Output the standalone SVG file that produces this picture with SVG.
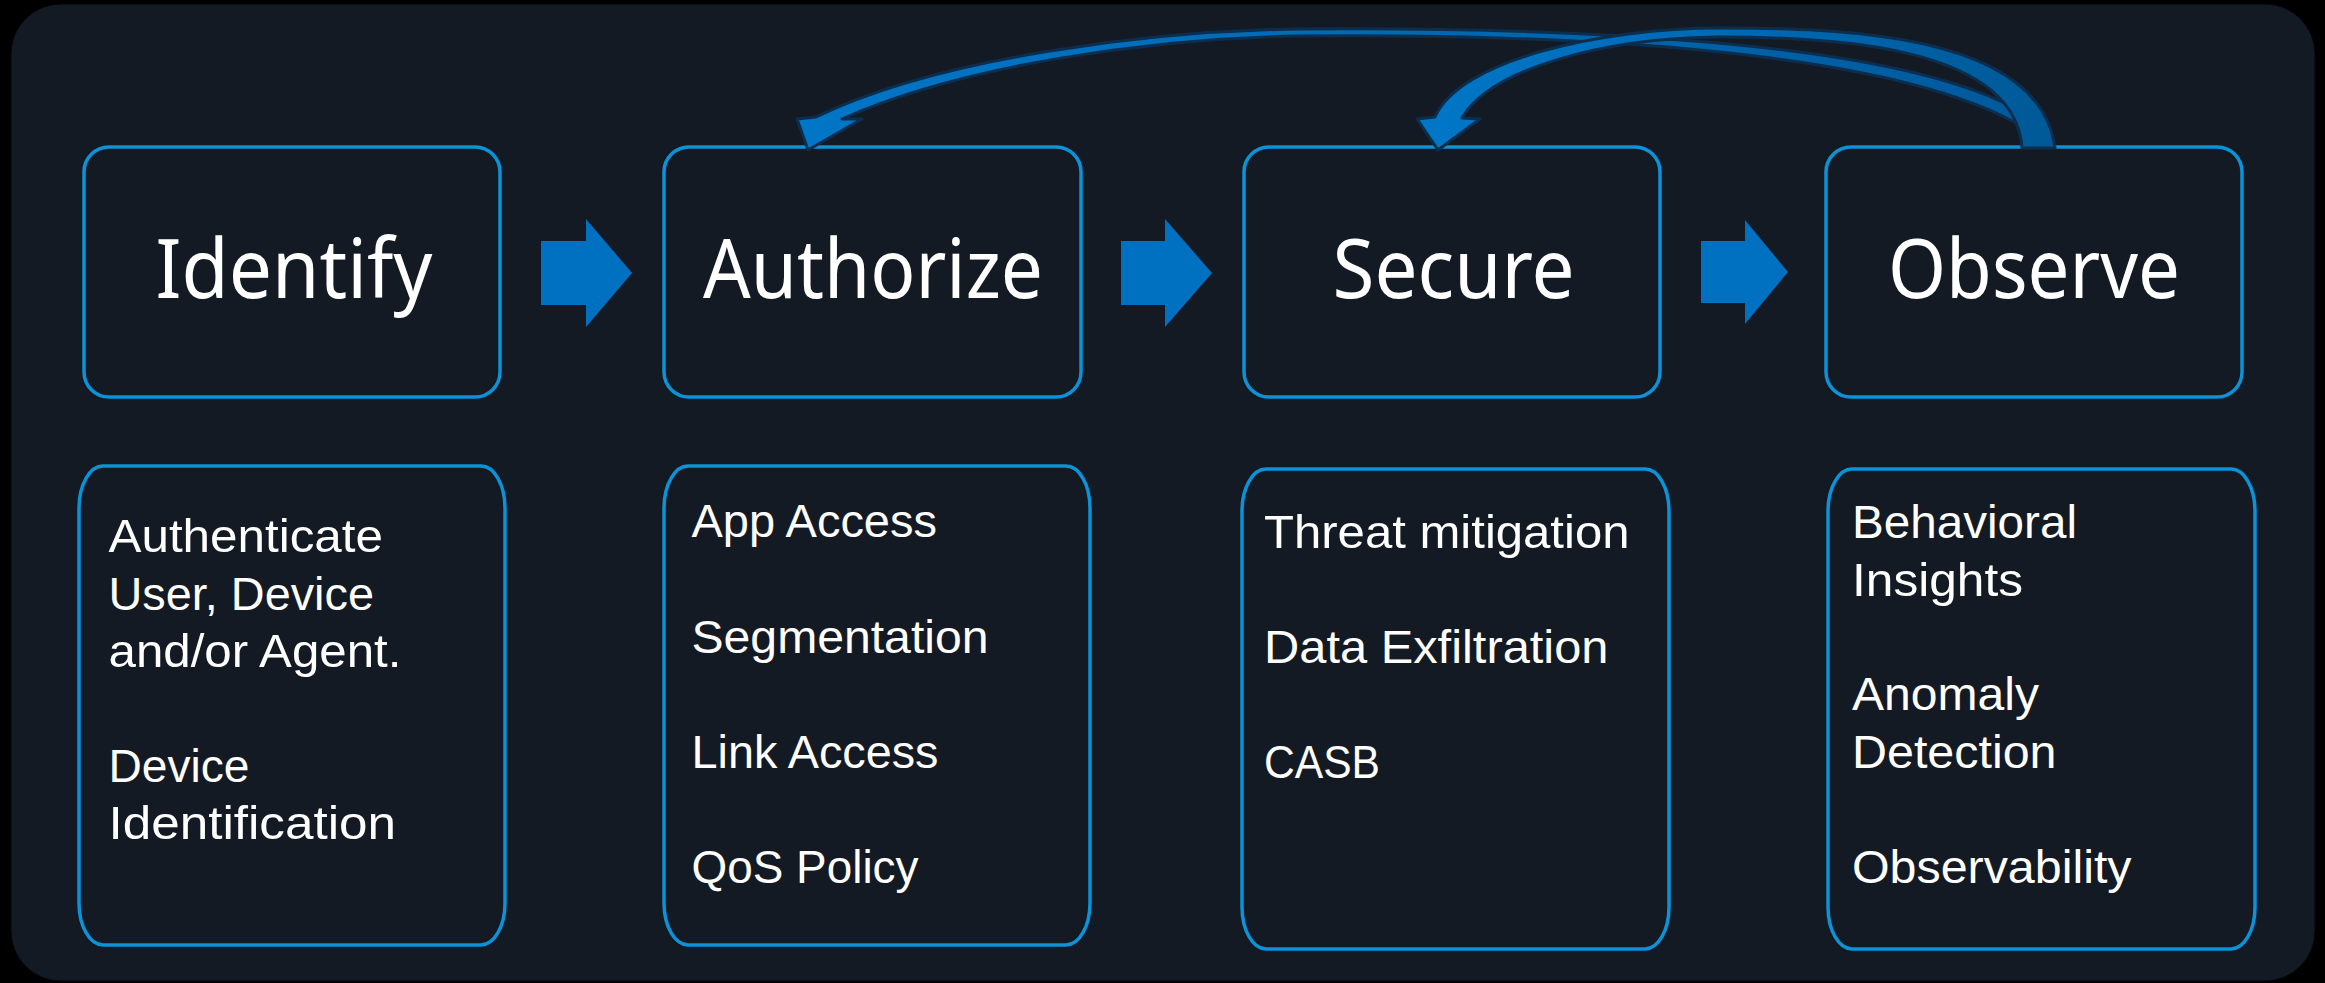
<svg xmlns="http://www.w3.org/2000/svg" width="2325" height="983" viewBox="0 0 2325 983">
  <defs>
    <style>
      .stage { fill: #141a23; stroke: #02070c; stroke-width: 1; }
      .box { fill: #141a23; stroke: #0a93d8; stroke-width: 3.5; }
      .step { fill: #ffffff; font-family: "Noto Sans", "DejaVu Sans", sans-serif; font-size: 82px; text-anchor: middle; }
      .item { fill: #ffffff; font-family: "Liberation Sans", Arial, sans-serif; font-size: 47px; }
      .flow { fill: #0070c0; }
      .loop { stroke: #0b2e4f; stroke-width: 3; stroke-linejoin: round; }
    </style>
    <linearGradient id="gradToAuthorize" gradientUnits="userSpaceOnUse" x1="808" y1="140" x2="2030" y2="120">
      <stop offset="0" stop-color="#0076c6"/>
      <stop offset="1" stop-color="#005a9c"/>
    </linearGradient>
    <linearGradient id="gradToSecure" gradientUnits="userSpaceOnUse" x1="1438" y1="140" x2="2055" y2="140">
      <stop offset="0" stop-color="#0076c6"/>
      <stop offset="0.5" stop-color="#0068b2"/>
      <stop offset="1" stop-color="#005996"/>
    </linearGradient>
  </defs>

  <rect width="2325" height="983" fill="#000000"/>
  <rect class="stage" x="11" y="4" width="2304" height="977" rx="50" ry="50"/>

  <!-- step nodes -->
  <g id="identify">
    <rect class="box" x="84" y="147" width="416" height="250" rx="25" ry="25"/>
    <text class="step" x="294" y="298" textLength="277" lengthAdjust="spacingAndGlyphs">Identify</text>
  </g>
  <g id="authorize">
    <rect class="box" x="664" y="147" width="417" height="250" rx="25" ry="25"/>
    <text class="step" x="873" y="298" textLength="340" lengthAdjust="spacingAndGlyphs">Authorize</text>
  </g>
  <g id="secure">
    <rect class="box" x="1244" y="147" width="416" height="250" rx="25" ry="25"/>
    <text class="step" x="1453.5" y="298" textLength="242" lengthAdjust="spacingAndGlyphs">Secure</text>
  </g>
  <g id="observe">
    <rect class="box" x="1826" y="147" width="416" height="250" rx="25" ry="25"/>
    <text class="step" x="2034" y="298" textLength="292" lengthAdjust="spacingAndGlyphs">Observe</text>
  </g>

  <!-- detail nodes -->
  <g id="identify-details">
    <rect class="box" x="79" y="466" width="426" height="479" rx="24" ry="42"/>
    <text class="item" x="108.5" y="552" textLength="274.5" lengthAdjust="spacingAndGlyphs">Authenticate</text>
    <text class="item" x="108.5" y="609.5" textLength="265.5" lengthAdjust="spacingAndGlyphs">User, Device</text>
    <text class="item" x="108.5" y="667" textLength="293" lengthAdjust="spacingAndGlyphs">and/or Agent.</text>
    <text class="item" x="108.5" y="781.5" textLength="141" lengthAdjust="spacingAndGlyphs">Device</text>
    <text class="item" x="108.5" y="839" textLength="287.5" lengthAdjust="spacingAndGlyphs">Identification</text>
  </g>
  <g id="authorize-details">
    <rect class="box" x="664" y="466" width="426" height="479" rx="24" ry="42"/>
    <text class="item" x="691.5" y="537" textLength="245.5" lengthAdjust="spacingAndGlyphs">App Access</text>
    <text class="item" x="691.5" y="652.5" textLength="297" lengthAdjust="spacingAndGlyphs">Segmentation</text>
    <text class="item" x="691.5" y="767.5" textLength="247" lengthAdjust="spacingAndGlyphs">Link Access</text>
    <text class="item" x="691.5" y="882.5" textLength="227" lengthAdjust="spacingAndGlyphs">QoS Policy</text>
  </g>
  <g id="secure-details">
    <rect class="box" x="1242" y="469" width="427" height="480" rx="24" ry="42"/>
    <text class="item" x="1264" y="547.5" textLength="365.5" lengthAdjust="spacingAndGlyphs">Threat mitigation</text>
    <text class="item" x="1264" y="662.5" textLength="344.5" lengthAdjust="spacingAndGlyphs">Data Exfiltration</text>
    <text class="item" x="1264" y="777.5" textLength="116" lengthAdjust="spacingAndGlyphs">CASB</text>
  </g>
  <g id="observe-details">
    <rect class="box" x="1828" y="469" width="427" height="480" rx="24" ry="42"/>
    <text class="item" x="1852" y="538" textLength="225" lengthAdjust="spacingAndGlyphs">Behavioral</text>
    <text class="item" x="1852" y="596" textLength="171" lengthAdjust="spacingAndGlyphs">Insights</text>
    <text class="item" x="1852" y="710" textLength="187" lengthAdjust="spacingAndGlyphs">Anomaly</text>
    <text class="item" x="1852" y="768" textLength="204.5" lengthAdjust="spacingAndGlyphs">Detection</text>
    <text class="item" x="1852" y="883" textLength="279.5" lengthAdjust="spacingAndGlyphs">Observability</text>
  </g>

  <!-- connectors -->
  <g id="connectors">
    <polygon class="flow" points="541,241 586,241 586,219 632,273 586,327 586,305 541,305"/>
    <polygon class="flow" points="1121,241 1165,241 1165,219 1212,273 1165,327 1165,305 1121,305"/>
    <polygon class="flow" points="1701,241 1745,241 1745,220 1788,272 1745,324 1745,303 1701,303"/>

    <!-- feedback loop: Observe back to Authorize -->
    <path class="loop" fill="url(#gradToAuthorize)"
          d="M2030,118 C1915,38 1550,27 1300,29 C1150,31 940,57 816,117 L797,119 L808,150 L862,119 L842,119 C960,66 1150,38 1300,36 C1550,34 1895,46 2028,130 Z"/>
    <!-- feedback loop: Observe back to Secure -->
    <path class="loop" fill="url(#gradToSecure)"
          d="M2022,148 C2015,45 1830,37 1720,37 C1600,38 1490,70 1462,118 L1480,119 L1438,150 L1417,119 L1435,117 C1460,60 1600,28 1720,28 C1830,28 2040,30 2055,148 Z"/>
  </g>
</svg>
